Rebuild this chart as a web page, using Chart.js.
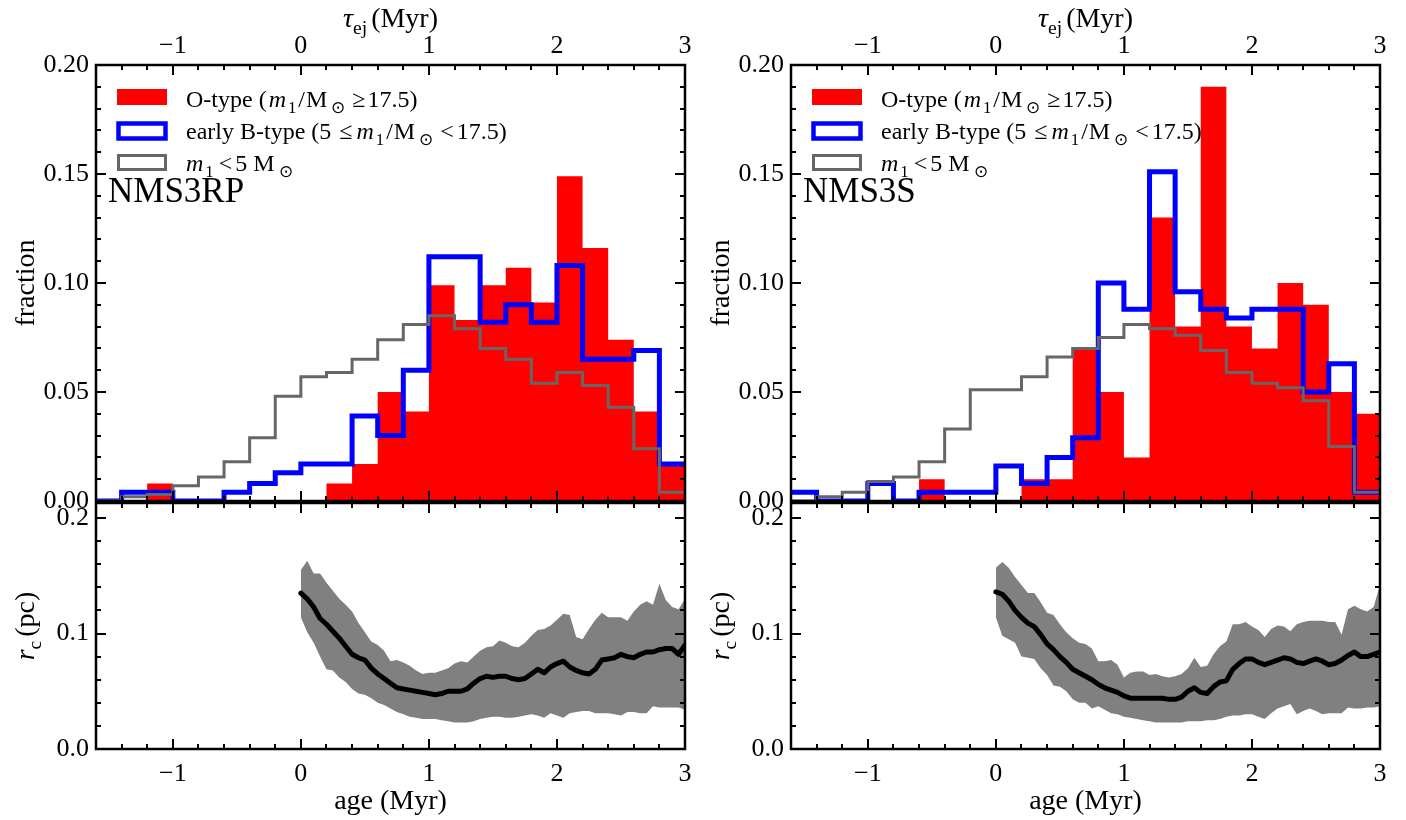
<!DOCTYPE html>
<html>
<head>
<meta charset="utf-8">
<title>NMS3RP / NMS3S</title>
<script src="https://cdn.jsdelivr.net/npm/chart.js@4.4.0/dist/chart.umd.min.js"></script>
<style>
  html, body { margin: 0; padding: 0; background: #fff; }
  #wrap { position: relative; width: 1406px; height: 820px; overflow: hidden; }
  canvas { position: absolute; }
</style>
</head>
<body>
<div id="wrap">
  <canvas id="histRP" width="703" height="531" style="left:0;top:0"></canvas>
  <canvas id="rcRP" width="703" height="342" style="left:0;top:478px"></canvas>
  <canvas id="histS" width="703" height="531" style="left:703px;top:0"></canvas>
  <canvas id="rcS" width="703" height="342" style="left:703px;top:478px"></canvas>
</div>
<script>
// histogram bin edges (Myr), 0.2 Myr bins
const ageEdges = [-1.6, -1.4, -1.2, -1.0, -0.8, -0.6, -0.4, -0.2, 0.0, 0.2, 0.4, 0.6,
                  0.8, 1.0, 1.2, 1.4, 1.6, 1.8, 2.0, 2.2, 2.4, 2.6, 2.8, 3.0];

// NMS3RP fractions per bin
const oTypeRP   = [0, 0, 0.008, 0, 0, 0, 0, 0, 0, 0.008, 0.017, 0.050,
                   0.041, 0.099, 0.083, 0.099, 0.107, 0.091, 0.149, 0.116, 0.074, 0.041, 0.017];
const earlyBRP  = [0, 0.004, 0.004, 0, 0, 0.004, 0.008, 0.013, 0.017, 0.017, 0.039, 0.030,
                   0.060, 0.112, 0.112, 0.082, 0.090, 0.082, 0.108, 0.065, 0.065, 0.069, 0.017];
const lowMassRP = [0, 0.002, 0.003, 0.007, 0.011, 0.018, 0.029, 0.048, 0.057, 0.059, 0.065, 0.074,
                   0.081, 0.085, 0.079, 0.070, 0.065, 0.054, 0.059, 0.053, 0.043, 0.024, 0.004];

// NMS3S fractions per bin
const oTypeS    = [0, 0, 0, 0, 0, 0.01, 0, 0, 0, 0.01, 0.01, 0.07,
                   0.05, 0.02, 0.13, 0.08, 0.19, 0.08, 0.07, 0.10, 0.09, 0.05, 0.04];
const earlyBS   = [0.004, 0, 0, 0.008, 0, 0.004, 0.004, 0.004, 0.016, 0.008, 0.020, 0.029,
                   0.100, 0.088, 0.151, 0.096, 0.088, 0.084, 0.088, 0.088, 0.050, 0.063, 0.004];
const lowMassS  = [0, 0.002, 0.004, 0.009, 0.011, 0.018, 0.033, 0.051, 0.051, 0.057, 0.066, 0.070,
                   0.075, 0.081, 0.079, 0.076, 0.069, 0.059, 0.054, 0.052, 0.046, 0.025, 0.004];

// core radius sampling ages (Myr)
const rcAge = [0.00, 0.05, 0.10, 0.15, 0.20, 0.25, 0.30, 0.35, 0.40, 0.45,
               0.50, 0.55, 0.60, 0.65, 0.70, 0.75, 0.80, 0.85, 0.90, 0.95,
               1.00, 1.05, 1.10, 1.15, 1.20, 1.25, 1.30, 1.35, 1.40, 1.45,
               1.50, 1.55, 1.60, 1.65, 1.70, 1.75, 1.80, 1.85, 1.90, 1.95,
               2.00, 2.05, 2.10, 2.15, 2.20, 2.25, 2.30, 2.35, 2.40, 2.45,
               2.50, 2.55, 2.60, 2.65, 2.70, 2.75, 2.80, 2.85, 2.90, 2.95,
               3.00];

// NMS3RP core radius (pc): median and spread
const rcMidRP = [0.135, 0.130, 0.123, 0.113, 0.108, 0.102, 0.096, 0.089, 0.082, 0.079,
                 0.077, 0.070, 0.065, 0.061, 0.057, 0.053, 0.052, 0.051, 0.050, 0.049,
                 0.048, 0.047, 0.048, 0.050, 0.050, 0.050, 0.052, 0.057, 0.061, 0.063,
                 0.062, 0.063, 0.063, 0.061, 0.060, 0.061, 0.065, 0.069, 0.066, 0.071,
                 0.074, 0.076, 0.071, 0.068, 0.066, 0.065, 0.069, 0.077, 0.078, 0.079,
                 0.082, 0.080, 0.079, 0.082, 0.084, 0.084, 0.086, 0.087, 0.087, 0.082,
                 0.090];
const rcHiRP  = [0.155, 0.163, 0.152, 0.152, 0.144, 0.137, 0.130, 0.125, 0.119, 0.109,
                 0.101, 0.093, 0.090, 0.085, 0.076, 0.077, 0.075, 0.072, 0.068, 0.065,
                 0.066, 0.066, 0.068, 0.070, 0.074, 0.076, 0.075, 0.080, 0.085, 0.088,
                 0.089, 0.094, 0.092, 0.089, 0.088, 0.092, 0.098, 0.103, 0.104, 0.107,
                 0.112, 0.117, 0.116, 0.097, 0.095, 0.104, 0.112, 0.118, 0.114, 0.114,
                 0.114, 0.111, 0.119, 0.125, 0.128, 0.125, 0.143, 0.129, 0.123, 0.121,
                 0.130];
const rcLoRP  = [0.114, 0.101, 0.092, 0.080, 0.069, 0.068, 0.062, 0.058, 0.052, 0.048,
                 0.047, 0.044, 0.040, 0.038, 0.035, 0.032, 0.030, 0.028, 0.027, 0.026,
                 0.026, 0.026, 0.025, 0.024, 0.023, 0.023, 0.023, 0.024, 0.026, 0.027,
                 0.028, 0.028, 0.027, 0.027, 0.028, 0.029, 0.030, 0.029, 0.027, 0.031,
                 0.029, 0.027, 0.031, 0.032, 0.033, 0.033, 0.031, 0.031, 0.031, 0.030,
                 0.029, 0.032, 0.032, 0.031, 0.031, 0.037, 0.036, 0.036, 0.036, 0.036,
                 0.034];

// NMS3S core radius (pc)
const rcMidS = [0.136, 0.134, 0.128, 0.120, 0.114, 0.109, 0.106, 0.099, 0.091, 0.086,
                0.080, 0.075, 0.069, 0.066, 0.063, 0.060, 0.056, 0.053, 0.051, 0.049,
                0.046, 0.044, 0.044, 0.044, 0.044, 0.044, 0.044, 0.043, 0.043, 0.045,
                0.050, 0.053, 0.049, 0.048, 0.054, 0.058, 0.059, 0.069, 0.074, 0.078,
                0.078, 0.075, 0.073, 0.075, 0.077, 0.079, 0.078, 0.075, 0.074, 0.076,
                0.078, 0.076, 0.073, 0.074, 0.077, 0.081, 0.084, 0.080, 0.080, 0.082,
                0.084];
const rcHiS  = [0.157, 0.162, 0.157, 0.149, 0.142, 0.135, 0.135, 0.127, 0.118, 0.116,
                0.108, 0.101, 0.096, 0.092, 0.091, 0.087, 0.076, 0.076, 0.077, 0.073,
                0.062, 0.066, 0.067, 0.067, 0.064, 0.065, 0.063, 0.062, 0.063, 0.065,
                0.070, 0.079, 0.071, 0.072, 0.082, 0.089, 0.093, 0.108, 0.108, 0.110,
                0.106, 0.103, 0.097, 0.104, 0.107, 0.106, 0.102, 0.108, 0.110, 0.111,
                0.111, 0.111, 0.110, 0.110, 0.099, 0.121, 0.124, 0.121, 0.119, 0.123,
                0.142];
const rcLoS  = [0.114, 0.098, 0.095, 0.092, 0.080, 0.079, 0.078, 0.070, 0.064, 0.055,
                0.054, 0.050, 0.043, 0.040, 0.040, 0.035, 0.037, 0.034, 0.031, 0.030,
                0.028, 0.027, 0.026, 0.025, 0.024, 0.023, 0.023, 0.023, 0.023, 0.023,
                0.024, 0.024, 0.024, 0.025, 0.025, 0.026, 0.028, 0.029, 0.029, 0.030,
                0.030, 0.028, 0.026, 0.031, 0.035, 0.037, 0.039, 0.030, 0.033, 0.035,
                0.033, 0.030, 0.031, 0.031, 0.031, 0.036, 0.035, 0.035, 0.036, 0.036,
                0.037];

const SERIF = "'Liberation Serif', 'Times New Roman', serif";
Chart.defaults.font.family = SERIF;
Chart.defaults.color = '#000';

// hist values -> points at bin edges, held over each bin
function histPoints(vals) {
    return ageEdges.map((e, i) => ({ x: e, y: vals[Math.min(i, vals.length - 1)] }));
}
function rcPoints(vals) {
    return rcAge.map((a, i) => ({ x: a, y: vals[i] }));
}
function ageLabel(v) {
    return v < 0 ? '\u2212' + Math.abs(v) : String(v);
}

// text runs: [string, style, extra gap after]; style '' | 'i' | 's' (subscript)
function drawRich(ctx, runs, x, y, size, align) {
    const fontFor = st => (st === 'i' ? 'italic ' : '') + (st === 's' ? size * 0.7 : size) + 'px ' + SERIF;
    let w = 0;
    runs.forEach(([t, st, gap]) => { ctx.font = fontFor(st); w += ctx.measureText(t).width + (gap || 0); });
    let cx = align === 'center' ? x - w / 2 : x;
    ctx.textAlign = 'left';
    ctx.textBaseline = 'alphabetic';
    runs.forEach(([t, st, gap]) => {
        ctx.font = fontFor(st);
        ctx.fillText(t, cx, st === 's' ? y + size * 0.24 : y);
        cx += ctx.measureText(t).width + (gap || 0);
    });
}

// spines, inward ticks on all four sides, titles and legend
const panelDecor = {
    id: 'panelDecor',
    afterDraw(chart, args, o) {
        const { ctx, chartArea: a, scales } = chart;
        const xs = scales.x, ys = scales.y;
        ctx.save();
        ctx.strokeStyle = '#000';
        ctx.lineWidth = 2;
        ctx.beginPath();
        ageEdges.forEach(v => {
            const px = Math.round(xs.getPixelForValue(v));
            const len = Math.abs(v - Math.round(v)) < 1e-6 ? 10 : 5;
            ctx.moveTo(px, a.top); ctx.lineTo(px, a.top + len);
            ctx.moveTo(px, a.bottom); ctx.lineTo(px, a.bottom - len);
        });
        for (let k = 0; k * o.yMinor <= ys.max + 1e-9; k++) {
            const v = k * o.yMinor;
            const py = Math.round(ys.getPixelForValue(v));
            const len = k % o.yMajorEvery === 0 ? 10 : 5;
            ctx.moveTo(a.left, py); ctx.lineTo(a.left + len, py);
            ctx.moveTo(a.right, py); ctx.lineTo(a.right - len, py);
        }
        ctx.stroke();
        ctx.lineWidth = 2.5;
        ctx.strokeRect(a.left, a.top, a.right - a.left, a.bottom - a.top);

        ctx.fillStyle = '#000';
        const midX = (a.left + a.right) / 2;
        const midY = (a.top + a.bottom) / 2;
        if (o.xTitle) drawRich(ctx, o.xTitle, midX, o.xTitleY, 28, 'center');
        ctx.save();
        ctx.translate(a.left - 62, midY);
        ctx.rotate(-Math.PI / 2);
        drawRich(ctx, o.yTitle, 0, 0, 28, 'center');
        ctx.restore();

        if (o.legend) {
            const bx = a.left + 21, tx = a.left + 90;
            ctx.fillStyle = '#ff0000';
            ctx.fillRect(bx, 89, 50, 16);
            ctx.lineWidth = 4.5;
            ctx.strokeStyle = '#0000ff';
            ctx.strokeRect(bx + 1.5, 123.5, 47, 15);
            ctx.lineWidth = 3;
            ctx.strokeStyle = '#666666';
            ctx.strokeRect(bx + 1.5, 155.5, 47, 14);
            ctx.fillStyle = '#000';
            const solar = [['m', 'i', 2], ['1', 's', 2], ['/', '', 1], ['M', '', 4], ['\u2299', 's', 7]];
            drawRich(ctx, [['O-type (', '', 2]].concat(solar, [['\u2265', '', 2], ['17.5)', '']]), tx, 107, 24);
            drawRich(ctx, [['early B-type (5 ', '', 2], ['\u2264', '', 4]].concat(solar, [['<', '', 3], ['17.5)', '']]), tx, 139, 24);
            drawRich(ctx, [['m', 'i', 2], ['1', 's', 5], ['<', '', 3], ['5 M', '', 4], ['\u2299', 's']], tx, 171, 24);
            drawRich(ctx, [[o.name, '']], a.left + 12, 202, 35);
        }
        ctx.restore();
    }
};

function histChart(id, name, oVals, bVals, lVals, yW, padR) {
    return new Chart(document.getElementById(id), {
        type: 'line',
        data: {
            datasets: [
                { data: histPoints(lVals), stepped: 'before', borderColor: '#666666', borderWidth: 3,
                  pointRadius: 0, fill: false, order: 1 },
                { data: histPoints(bVals), stepped: 'before', borderColor: '#0000ff', borderWidth: 5,
                  pointRadius: 0, fill: false, order: 2 },
                { data: histPoints(oVals), stepped: 'before', borderColor: 'rgba(0,0,0,0)', borderWidth: 0,
                  backgroundColor: '#ff0000', pointRadius: 0, fill: 'origin', order: 3 }
            ]
        },
        options: {
            responsive: false, animation: false, devicePixelRatio: 1,
            layout: { padding: { left: 0, top: 0, right: padR, bottom: 30 } },
            plugins: {
                legend: { display: false }, tooltip: { enabled: false },
                panelDecor: {
                    yMinor: 0.01, yMajorEvery: 5, legend: true, name: name,
                    xTitle: [['\u03c4', 'i'], ['ej', 's', 4], ['(Myr)', '']], xTitleY: 27,
                    yTitle: [['fraction', '']]
                }
            },
            scales: {
                x: {
                    type: 'linear', position: 'top', min: -1.6, max: 3,
                    grid: { display: false, drawTicks: false }, border: { display: false },
                    ticks: { stepSize: 1, includeBounds: false, padding: 3, font: { size: 26 },
                             callback: ageLabel, maxRotation: 0 },
                    afterFit: s => { s.height = 65; }
                },
                y: {
                    min: 0, max: 0.2,
                    grid: { display: false, drawTicks: false }, border: { display: false },
                    ticks: { stepSize: 0.05, includeBounds: false, padding: 7, font: { size: 26 },
                             callback: v => v.toFixed(2) },
                    afterFit: s => { s.width = yW; }
                }
            }
        },
        plugins: [panelDecor]
    });
}

function rcChart(id, hi, mid, lo, yW, padR) {
    return new Chart(document.getElementById(id), {
        type: 'line',
        data: {
            datasets: [
                { data: rcPoints(hi), borderWidth: 0, borderColor: 'rgba(0,0,0,0)', pointRadius: 0,
                  backgroundColor: '#808080', fill: '+1', order: 2 },
                { data: rcPoints(lo), borderWidth: 0, borderColor: 'rgba(0,0,0,0)', pointRadius: 0,
                  fill: false, order: 3 },
                { data: rcPoints(mid), borderColor: '#000', borderWidth: 5, pointRadius: 0,
                  borderJoinStyle: 'round', borderCapStyle: 'round', fill: false, order: 1 }
            ]
        },
        options: {
            responsive: false, animation: false, devicePixelRatio: 1,
            layout: { padding: { left: 0, top: 25, right: padR, bottom: 0 } },
            plugins: {
                legend: { display: false }, tooltip: { enabled: false },
                panelDecor: {
                    yMinor: 0.02, yMajorEvery: 5,
                    xTitle: [['age (Myr)', '']], xTitleY: 331,
                    yTitle: [['r', 'i'], ['c', 's', 4], ['(pc)', '']]
                }
            },
            scales: {
                x: {
                    type: 'linear', position: 'bottom', min: -1.6, max: 3,
                    grid: { display: false, drawTicks: false }, border: { display: false },
                    ticks: { stepSize: 1, includeBounds: false, padding: 10, font: { size: 26 },
                             callback: ageLabel, maxRotation: 0 },
                    afterFit: s => { s.height = 71; }
                },
                y: {
                    min: 0, max: 0.213,
                    grid: { display: false, drawTicks: false }, border: { display: false },
                    ticks: { stepSize: 0.1, includeBounds: false, padding: 7, font: { size: 26 },
                             callback: v => v.toFixed(1) },
                    afterFit: s => { s.width = yW; }
                }
            }
        },
        plugins: [panelDecor]
    });
}

histChart('histRP', 'NMS3RP', oTypeRP, earlyBRP, lowMassRP, 96, 18);
histChart('histS', 'NMS3S', oTypeS, earlyBS, lowMassS, 88, 26);
rcChart('rcRP', rcHiRP, rcMidRP, rcLoRP, 96, 18);
rcChart('rcS', rcHiS, rcMidS, rcLoS, 88, 26);
</script>
</body>
</html>
